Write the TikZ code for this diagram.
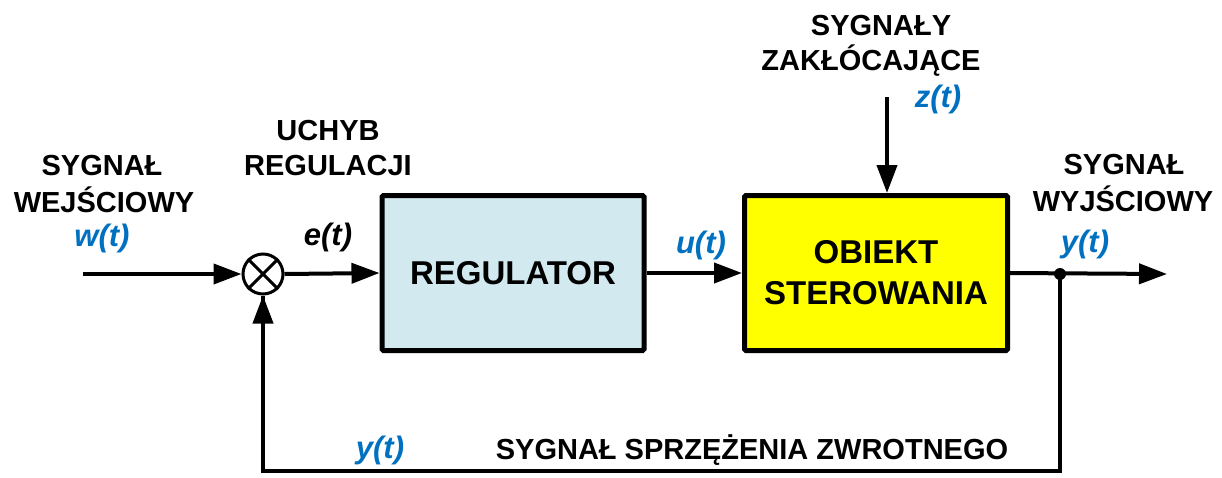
\documentclass[tikz,border=0pt]{standalone}
\usepackage{fontspec}
\setmainfont{Liberation Sans}
\usetikzlibrary{arrows.meta}
\definecolor{sigblue}{RGB}{0,112,192}
\definecolor{regfill}{RGB}{209,233,239}
\definecolor{objfill}{RGB}{255,255,0}
\tikzset{
  blockbox/.style={draw=black, line width=5pt, rounded corners=1.5pt, minimum width=262pt, minimum height=155pt, align=center, font=\fontsize{33}{41}\selectfont\bfseries, inner sep=0pt},
  sig/.style={line width=4pt, -{Triangle[length=28pt,width=20pt]}},
  wire/.style={line width=4pt},
  lbl/.style={anchor=base, inner sep=0pt, font=\fontsize{29}{35}\selectfont\bfseries},
  blue lbl/.style={anchor=base, inner sep=0pt, text=sigblue, font=\fontsize{31}{35}\selectfont\bfseries\itshape},
  black lbl/.style={anchor=base, inner sep=0pt, font=\fontsize{31}{35}\selectfont\bfseries\itshape},
}
\begin{document}
\begin{tikzpicture}[x=1pt,y=-1pt]
\useasboundingbox (0,0) rectangle (1222,477);
% nodes
\node[draw, circle, line width=3pt, minimum size=40pt, inner sep=0pt] (sum) at (263,274) {};
\draw[line width=3pt] (sum.north west) -- (sum.south east) (sum.north east) -- (sum.south west);
\node[blockbox, fill=regfill] (reg) at (513,273) {REGULATOR};
\node[blockbox, fill=objfill, minimum width=263pt] (obj) at (876,273) {OBIEKT\\STEROWANIA};
\coordinate (win) at (83,274);
\coordinate (ztop) at (887,97);
\coordinate (yout) at (1167,274);
\node[circle, fill=black, minimum size=12pt, inner sep=0pt] (dot) at (1060,274) {};
\coordinate (fbr) at (1060,471);
\coordinate (fbl) at (263,471);
% connectors
\draw[sig] (win) -- (sum.west);
\draw[sig] (sum.east) -- (reg.west);
\draw[sig] (reg.east) -- (obj.west);
\draw[sig] (ztop) -- (ztop |- obj.north);
\draw[sig] (obj.east) -- (yout);
\draw[wire, line join=miter] (dot.center) -- (fbr) -- (fbl) -- (sum.south);
\draw[sig] (fbl) -- (sum.south);
% labels
\node[lbl] (l1) at (102,175) {SYGNAŁ};
\node[lbl] (l2) at (104,212) {WEJŚCIOWY};
\node[blue lbl] (lw) at (102,246) {w(t)};
\node[lbl] (l3) at (328,140) {UCHYB};
\node[lbl] (l4) at (328,175) {REGULACJI};
\node[black lbl] (le) at (328,245) {e(t)};
\node[blue lbl] (lu) at (701,253) {u(t)};
\node[lbl] (l5) at (881,35) {SYGNAŁY};
\node[lbl] (l6) at (871,70) {ZAKŁÓCAJĄCE};
\node[blue lbl] (lz) at (938,107) {z(t)};
\node[lbl] (l7) at (1124,174) {SYGNAŁ};
\node[lbl] (l8) at (1123,211) {WYJŚCIOWY};
\node[blue lbl] (ly) at (1085,252) {y(t)};
\node[blue lbl] (ly2) at (380,458) {y(t)};
\node[lbl] (l9) at (752,459) {SYGNAŁ SPRZĘŻENIA ZWROTNEGO};
\end{tikzpicture}
\end{document}
